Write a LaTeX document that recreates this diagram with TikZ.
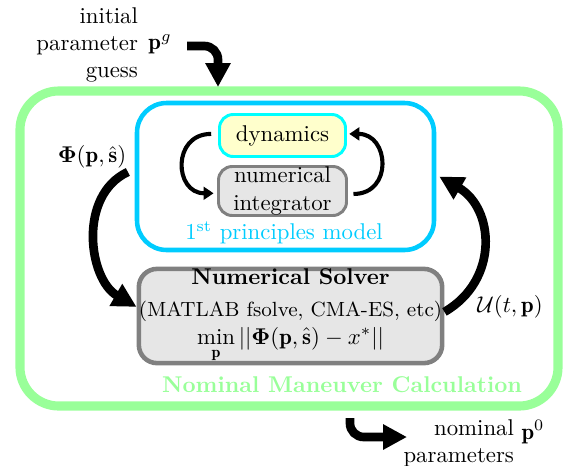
\documentclass[tikz,border=0pt]{standalone}
\usepackage{amsmath}
\usepackage{amssymb}
\usepackage{fontspec}
\usepackage{xcolor}
\usepackage{tikz}
\usetikzlibrary{arrows.meta}

\definecolor{calcgreen}{RGB}{153,255,153}
\definecolor{modelblue}{RGB}{0,204,255}
\definecolor{dyncyan}{RGB}{0,255,255}
\definecolor{dynfill}{RGB}{255,255,204}
\definecolor{boxgray}{RGB}{128,128,128}
\definecolor{boxfill}{RGB}{230,230,230}
\newcommand{\px}{0.4386pt}

\begin{document}
\begin{tikzpicture}[x=\px, y=\px,
    bigarrow/.style={line width=3.8pt, -{Triangle[length=10.5pt,width=10.5pt]}},
    smallarrow/.style={line width=1.8pt, -{Triangle[length=4.4pt,width=5.6pt]}},
    graybox/.style={draw=boxgray, fill=boxfill, align=center, inner sep=0pt}]
  \useasboundingbox (0,0) rectangle (568,465);
  % containers
  \node[draw=calcgreen, line width=4pt, rounded corners=17pt,
        minimum width=538*\px, minimum height=315*\px] (calc) at (289,216.5) {};
  \node[draw=modelblue, line width=2pt, rounded corners=13pt,
        minimum width=297*\px, minimum height=147*\px] (model) at (285.5,288.5) {};
  % model parts
  \node[draw=dyncyan, fill=dynfill, line width=1.3pt, rounded corners=6pt,
        minimum width=126*\px, minimum height=42*\px] (dyn) at (282.5,329.5) {dynamics};
  \node[graybox, line width=1.3pt, rounded corners=6pt,
        minimum width=128*\px, minimum height=49*\px] (integ) at (282.5,274) {numerical\\integrator};
  \node[text=modelblue] (modellabel) at (284,232) {1\textsuperscript{st} principles model};
  % solver
  \node[graybox, line width=2pt, rounded corners=8pt,
        minimum width=302*\px, minimum height=92*\px] (solver) at (290.5,149)
        {\textbf{Numerical Solver}\\[2pt]{\fontsize{9pt}{11pt}\selectfont (MATLAB fsolve, CMA-ES, etc)}\\
         $\min\limits_{\mathbf{p}}||\boldsymbol{\Phi}(\mathbf{p},\hat{\mathbf{s}})-x^*||$};
  \node[text=calcgreen, font=\bfseries, anchor=east] (calclabel) at (530,80) {Nominal Maneuver Calculation};
  % labels
  \node (phi) at (92,308) {$\boldsymbol{\Phi}(\mathbf{p},\hat{\mathbf{s}})$};
  \node (ulabel) at (510,158) {$\mathcal{U}(t,\mathbf{p})$};
  \node[align=right, anchor=east] (guess) at (146,420) {initial\\parameter\\guess};
  \node (pg) at (160,421) {$\mathbf{p}^g$};
  \node[align=right, anchor=east] (nominal) at (522,22) {nominal\\parameters};
  \node (p0) at (533,33) {$\mathbf{p}^0$};
  % in and out
  \coordinate (gstart) at (187,419);
  \coordinate (gend) at (218,378);
  \coordinate (nstart) at (350,47);
  \coordinate (nend) at (407,28);
  \draw[bigarrow, rounded corners=6pt] (gstart) -| (gend);
  \draw[bigarrow, rounded corners=6pt] (nstart) |- (nend);
  % loops
  \draw[bigarrow] ([xshift=-3pt, yshift=2pt]model.west) to[out=205, in=150, looseness=1.05] ([yshift=4pt]solver.west);
  \draw[bigarrow] ([yshift=1.8pt]solver.east) to[out=30, in=-30, looseness=1.2] ([xshift=1.3pt]model.east);
  \draw[smallarrow] ([xshift=-3pt, yshift=0.7pt]dyn.west) to[out=180, in=180, looseness=1.7] ([xshift=-1.5pt, yshift=-1pt]integ.west);
  \draw[smallarrow] ([xshift=2.4pt, yshift=-1.3pt]integ.east) to[out=0, in=0, looseness=1.7] ([xshift=1pt, yshift=0.7pt]dyn.east);
\end{tikzpicture}
\end{document}
